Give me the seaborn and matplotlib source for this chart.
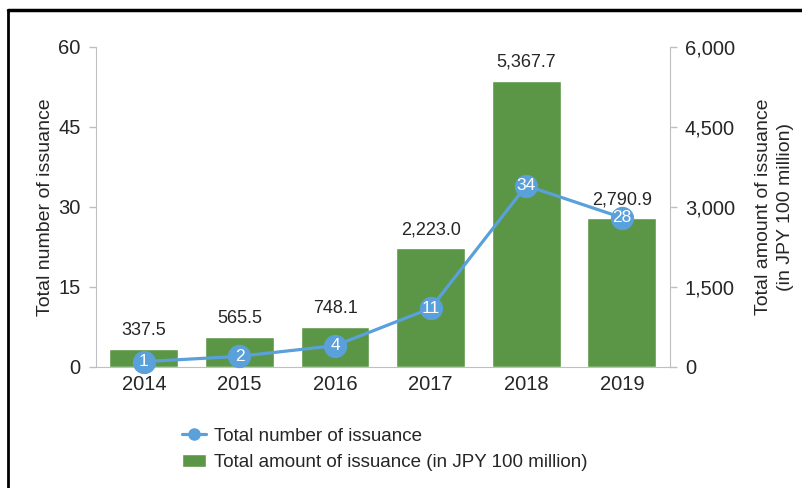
import numpy as np
import pandas as pd
import matplotlib
matplotlib.use("Agg")
import matplotlib.pyplot as plt
import seaborn as sns
from matplotlib.lines import Line2D
from matplotlib.patches import Patch

# data
years = ["2014", "2015", "2016", "2017", "2018", "2019"]
amount = [337.5, 565.5, 748.1, 2223.0, 5367.7, 2790.9]   # JPY 100 million
counts = [1, 2, 4, 11, 34, 28]

green = "#5B9647"
blue = "#5AA0DA"
grey = "#BFBFBF"

sns.set_style("white")
plt.rcParams["font.family"] = ["Liberation Sans", "DejaVu Sans"]

df = pd.DataFrame({"year": years, "amount": amount, "count": counts})

fig = plt.figure(figsize=(8.03, 4.88), dpi=100)
ax = fig.add_axes([0.1196, 0.248, 0.7144, 0.6557])
ax2 = ax.twinx()

# bars -> right axis scale, drawn on ax (below the line)
sns.barplot(data=df, x="year", y="amount", color=green, width=0.72,
            saturation=1, ax=ax)
ax.set_ylim(0, 6000)
ax.set_xlim(-0.5, 5.5)
ax.yaxis.tick_right()
ax.yaxis.set_label_position("right")
ax.set_yticks([0, 1500, 3000, 4500, 6000])
ax.set_yticklabels([f"{v:,}" for v in [0, 1500, 3000, 4500, 6000]])
ax.set_xlabel("")
ax.set_ylabel("Total amount of issuance\n(in JPY 100 million)", fontsize=14,
              linespacing=1.45, labelpad=14)
ax.bar_label(ax.containers[0], labels=[f"{v:,.1f}" for v in amount],
             padding=7, fontsize=13, color="#262626")

# line -> left axis scale
sns.lineplot(x=np.arange(len(years)), y=counts, ax=ax2, color=blue,
             linewidth=2.3, marker="o", markersize=16, markeredgecolor=blue,
             clip_on=False)
ax2.set_ylim(0, 60)
ax2.yaxis.tick_left()
ax2.yaxis.set_label_position("left")
ax2.set_yticks([0, 15, 30, 45, 60])
ax2.set_ylabel("Total number of issuance", fontsize=14, labelpad=3)
for i, c in enumerate(counts):
    ax2.text(i, c, str(c), ha="center", va="center", color="white",
             fontsize=12.5, clip_on=False)

for a in (ax, ax2):
    for s in a.spines.values():
        s.set_visible(False)
    a.tick_params(axis="both", labelsize=14.5, colors=grey, labelcolor="#262626",
                  length=5, width=1, direction="out")
ax.tick_params(axis="x", length=0, pad=6)
ax.spines["bottom"].set_visible(True)
ax.spines["bottom"].set_color(grey)
ax.spines["right"].set_visible(True)
ax.spines["right"].set_color(grey)
ax2.spines["left"].set_visible(True)
ax2.spines["left"].set_color(grey)
ax.tick_params(axis="y", left=False, right=True, labelleft=False, labelright=True, pad=6)
ax2.tick_params(axis="y", left=True, right=False, labelleft=True, labelright=False, pad=6)

handles = [
    Line2D([0], [0], color=blue, linewidth=2.3, marker="o", markersize=8),
    Patch(facecolor=green),
]
fig.legend(handles, ["Total number of issuance",
                     "Total amount of issuance (in JPY 100 million)"],
           loc="upper left", bbox_to_anchor=(0.215, 0.143), frameon=False,
           fontsize=13.5, handlelength=1.3, handletextpad=0.4,
           labelspacing=0.5, borderpad=0)

# frame lines at top and left of picture
fig.add_artist(Line2D([0.01, 1.0], [0.979, 0.979], color="black", linewidth=2.5))
fig.add_artist(Line2D([0.01, 0.01], [0.0, 0.979], color="black", linewidth=2))

fig.savefig("out.png", dpi=100)
